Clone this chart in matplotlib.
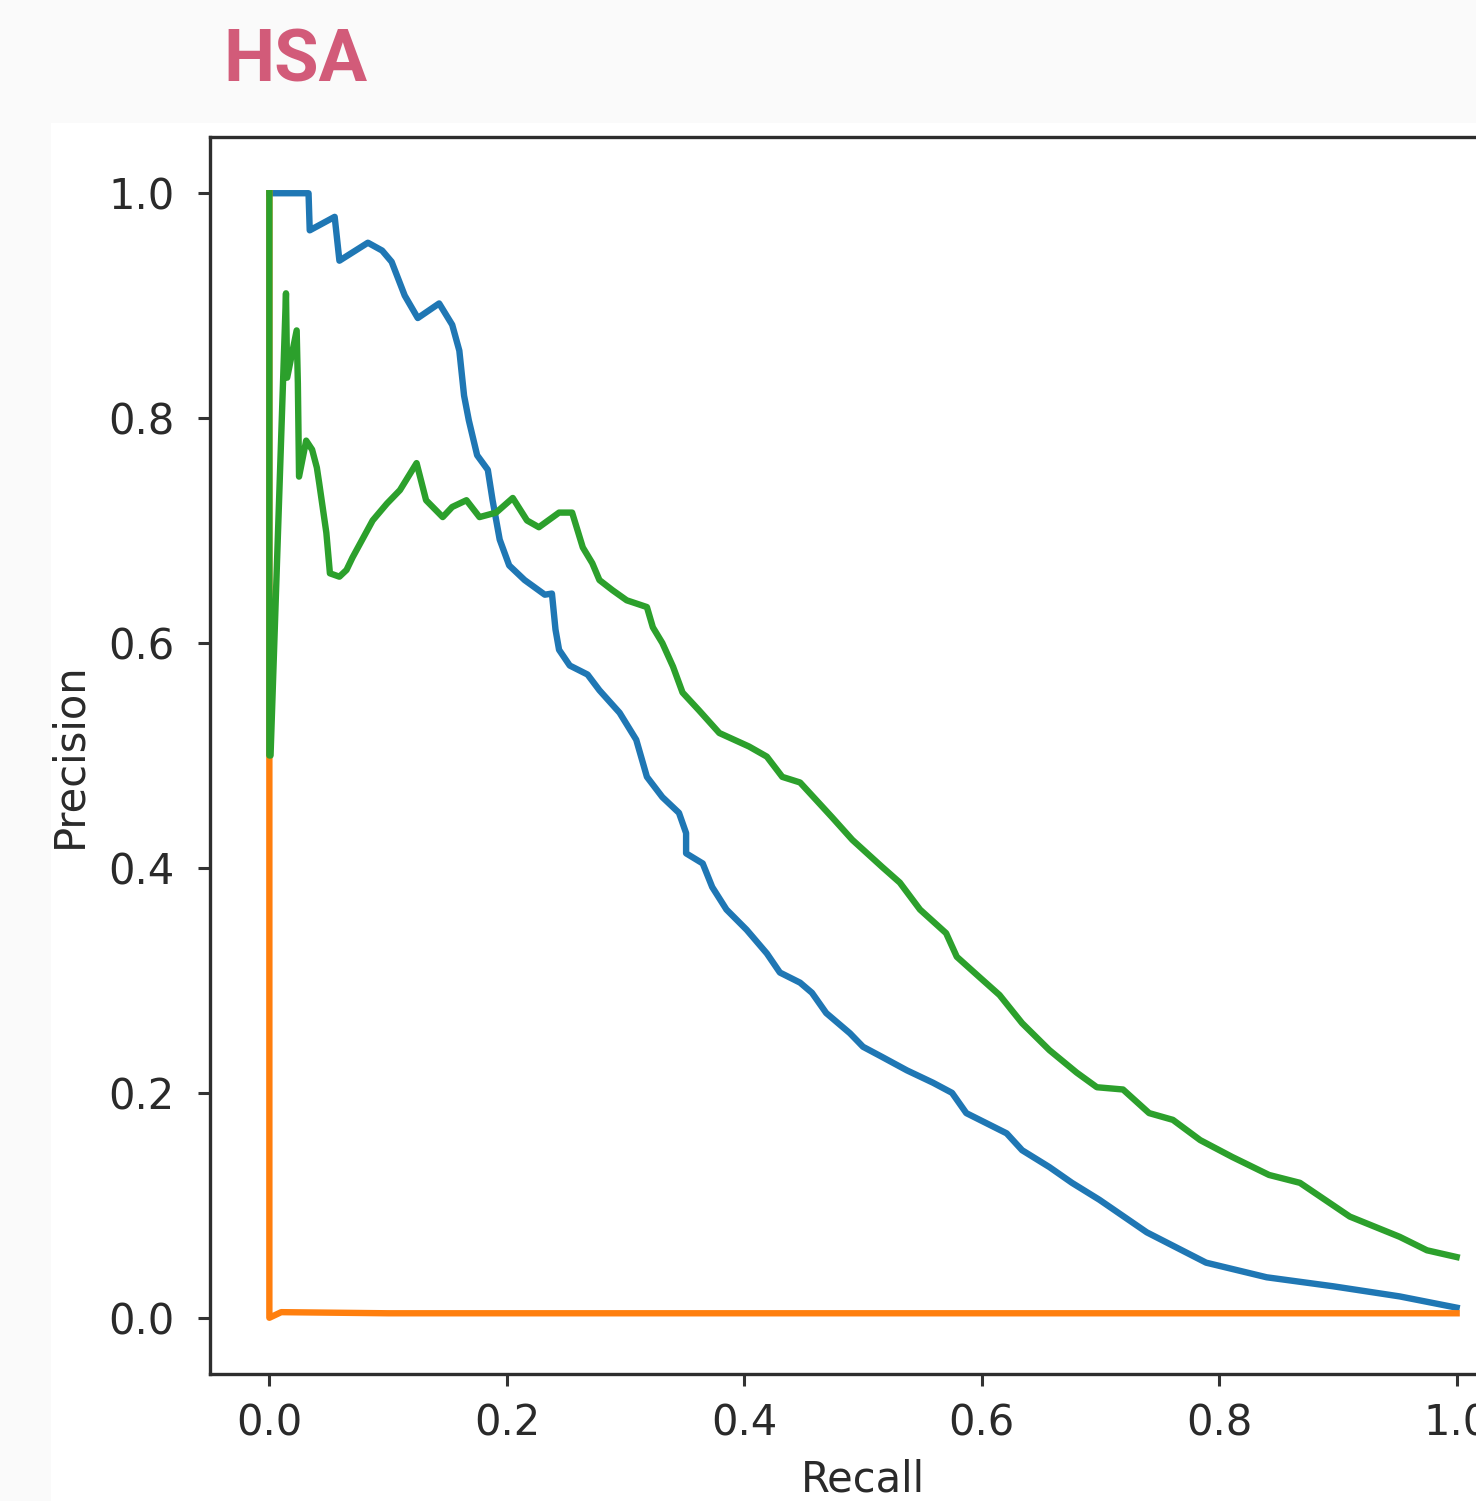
import matplotlib
matplotlib.use("Agg")
import matplotlib.pyplot as plt
from matplotlib.patches import Rectangle

# precision-recall curves
blue_recall = [0.0, 0.033, 0.034, 0.055, 0.059, 0.083, 0.095, 0.103, 0.114, 0.125,
               0.143, 0.154, 0.160, 0.164, 0.168, 0.175, 0.184, 0.188, 0.194, 0.202,
               0.215, 0.232, 0.238, 0.241, 0.244, 0.253, 0.268, 0.278, 0.295, 0.309,
               0.318, 0.331, 0.345, 0.351, 0.351, 0.365, 0.373, 0.385, 0.402, 0.419,
               0.430, 0.447, 0.457, 0.469, 0.489, 0.500, 0.516, 0.537, 0.559, 0.575,
               0.587, 0.604, 0.621, 0.634, 0.657, 0.676, 0.699, 0.739, 0.789, 0.840,
               0.896, 0.952, 1.0]
blue_precision = [1.0, 1.0, 0.967, 0.979, 0.940, 0.956, 0.949, 0.939, 0.909, 0.889,
                  0.902, 0.883, 0.860, 0.820, 0.798, 0.767, 0.754, 0.727, 0.692, 0.669,
                  0.656, 0.643, 0.644, 0.612, 0.594, 0.580, 0.572, 0.558, 0.538, 0.514,
                  0.481, 0.463, 0.449, 0.431, 0.413, 0.404, 0.383, 0.363, 0.345, 0.324,
                  0.307, 0.298, 0.289, 0.271, 0.253, 0.241, 0.232, 0.220, 0.209, 0.200,
                  0.182, 0.173, 0.164, 0.149, 0.134, 0.120, 0.105, 0.076, 0.049, 0.036,
                  0.028, 0.019, 0.009]

orange_recall = [0.0, 0.0, 0.01, 0.1, 1.0]
orange_precision = [1.0, 0.0, 0.005, 0.004, 0.004]

green_recall = [0.0, 0.0, 0.001, 0.014, 0.015, 0.023, 0.024, 0.025, 0.031, 0.036,
                0.040, 0.042, 0.048, 0.051, 0.059, 0.065, 0.070, 0.087, 0.099, 0.110,
                0.124, 0.132, 0.146, 0.154, 0.166, 0.177, 0.191, 0.205, 0.217, 0.227,
                0.244, 0.255, 0.264, 0.272, 0.278, 0.289, 0.301, 0.318, 0.323, 0.331,
                0.340, 0.348, 0.362, 0.379, 0.404, 0.419, 0.432, 0.447, 0.474, 0.491,
                0.516, 0.531, 0.548, 0.570, 0.579, 0.598, 0.615, 0.634, 0.657, 0.680,
                0.697, 0.719, 0.741, 0.761, 0.784, 0.811, 0.842, 0.868, 0.910, 0.952,
                0.975, 1.0]
green_precision = [1.0, 0.5, 0.5, 0.911, 0.836, 0.878, 0.831, 0.748, 0.780, 0.772,
                   0.756, 0.742, 0.698, 0.662, 0.659, 0.665, 0.676, 0.709, 0.724, 0.736,
                   0.760, 0.727, 0.712, 0.721, 0.727, 0.712, 0.716, 0.729, 0.709, 0.703,
                   0.716, 0.716, 0.685, 0.671, 0.656, 0.647, 0.638, 0.632, 0.614, 0.600,
                   0.579, 0.556, 0.540, 0.520, 0.508, 0.499, 0.481, 0.476, 0.445, 0.425,
                   0.401, 0.387, 0.363, 0.342, 0.321, 0.303, 0.287, 0.262, 0.238, 0.218,
                   0.205, 0.203, 0.182, 0.176, 0.158, 0.143, 0.127, 0.120, 0.090, 0.072,
                   0.060, 0.054]

ticks = [0.0, 0.2, 0.4, 0.6, 0.8, 1.0]
tick_labels = ["0.0", "0.2", "0.4", "0.6", "0.8", "1.0"]

W, H = 1476, 1501
fig = plt.figure(figsize=(W / 100, H / 100), dpi=100)
fig.patch.set_facecolor("#fafafa")

# white screenshot area behind the plot
fig.add_artist(Rectangle((51 / W, 0), 1 - 51 / W, 1 - 123 / H,
                         transform=fig.transFigure, facecolor="white",
                         edgecolor="none", zorder=0))

fig.text(223 / W, 1 - 82 / H, "HSA", fontsize=52, fontweight="bold",
         family="Roboto", color="#d25b79", va="baseline", ha="left")

left, right = 210 / W, 1516 / W
bottom, top = 1 - 1374 / H, 1 - 137 / H
ax = fig.add_axes([left, bottom, right - left, top - bottom])
ax.set_facecolor("white")

lw = 4.6
ax.plot(blue_recall, blue_precision, color="#1f77b4", lw=lw)
ax.plot(orange_recall, orange_precision, color="#ff7f0e", lw=lw)
ax.plot(green_recall, green_precision, color="#2ca02c", lw=lw)

ax.set_xlim(-0.05, 1.05)
ax.set_ylim(-0.05, 1.05)
ax.set_xticks(ticks)
ax.set_xticklabels(tick_labels)
ax.set_yticks(ticks)
ax.set_yticklabels(tick_labels)

for s in ax.spines.values():
    s.set_linewidth(2.4)
    s.set_color("#2e2e2e")
ax.tick_params(axis="both", length=8.5, width=2.2, color="#333333",
               labelsize=30, labelcolor="#2a2a2a")
ax.tick_params(axis="y", pad=17)
ax.tick_params(axis="x", pad=12)

ax.set_xlabel("Recall", fontsize=30, color="#2a2a2a", labelpad=10)
ax.set_ylabel("Precision", fontsize=30, color="#2a2a2a", labelpad=13)

fig.savefig("out.png", dpi=100, facecolor=fig.get_facecolor())
